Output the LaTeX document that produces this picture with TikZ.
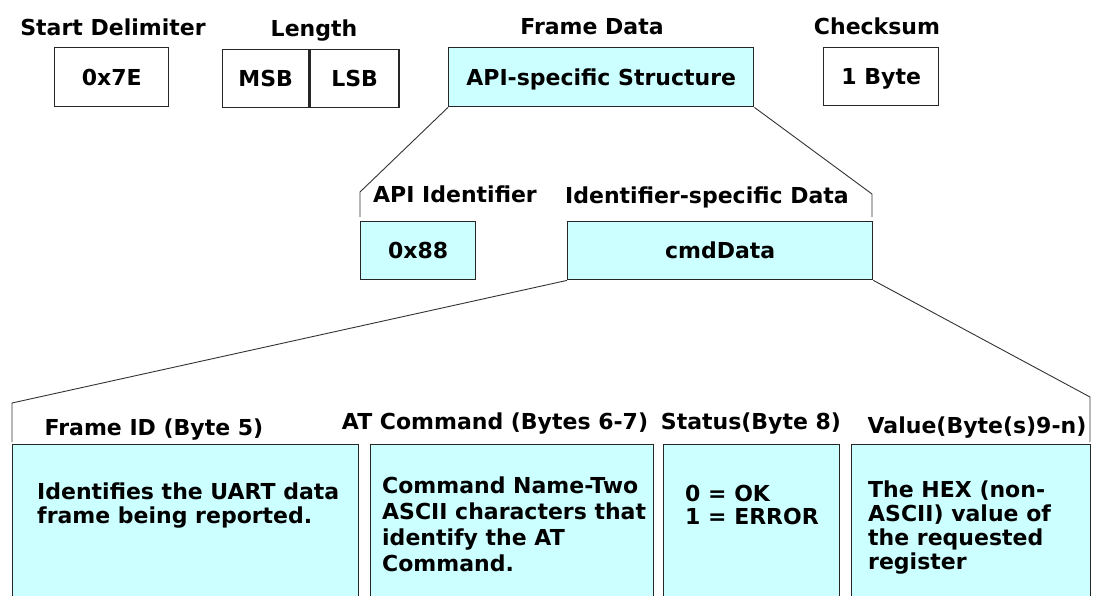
\documentclass[tikz,border=0pt]{standalone}
\usepackage{fontspec}
\setmainfont{DejaVu Sans}
\usetikzlibrary{positioning}
\definecolor{cellcyan}{RGB}{204,255,255}
\newcommand{\descfont}[1]{\fontsize{22}{#1}\selectfont\bfseries\lineskiplimit=-50pt\relax}

\begin{document}
\begin{tikzpicture}[x=1pt, y=-1pt,
                    every node/.style = {inner sep=0pt,
                    font=\fontsize{22}{24}\selectfont\bfseries},
                    wh/.style 2 args = {minimum width=#1pt, minimum height=#2pt},
                    field/.style = {draw=black!85, line width=1.4pt, anchor=north west,
                    text height=16pt, text depth=0pt},
                    plainfield/.style = {field, fill=white},
                    apifield/.style = {field, fill=cellcyan},
                    title/.style = {anchor=base},
                    desc/.style = {anchor=north west, align=left, font=\descfont{#1}},
                    fan/.style = {draw=black!80, line width=0.9pt}]
  \fill[white] (0,0) rectangle (1093,595);
  \useasboundingbox (0,0) rectangle (1093,595);
  \clip (0,0) rectangle (1093,595);

  % top row: the frame
  \node[plainfield, wh={114}{59}] (delim) at (54,47) {0x7E};
  \node[plainfield, wh={86}{58}] (msb) at (222,49) {MSB};
  \node[plainfield, wh={89}{58}] (lsb) at (msb.north east) {LSB};
  \node[apifield, wh={305}{59}] (apistruct) at (448,47) {API-specific Structure};
  \node[plainfield, wh={115}{58}] (checksum) at (823,47) {1 Byte};

  \node[title] (delimtitle) at (113,35) {Start Delimiter};
  \node[title] (lentitle) at (314,36) {Length};
  \node[title] (datatitle) at (592,34) {Frame Data};
  \node[title] (sumtitle) at (877,34) {Checksum};

  % middle row: inside the frame data
  \node[apifield, wh={115}{58}] (apiid) at (360,221) {0x88};
  \node[apifield, wh={305}{58}] (cmddata) at (567,221) {cmdData};
  \node[title] (apiidtitle) at (455,202) {API Identifier};
  \node[title] (cmdtitle) at (707,203) {Identifier-specific Data};

  \coordinate (apiL) at (360,192);
  \coordinate (apiLend) at (360,217);
  \coordinate (apiR) at (872,194);
  \coordinate (apiRend) at (872,217);
  \draw[fan] (apistruct.south west) -- (apiL) -- (apiLend);
  \draw[fan] (apistruct.south east) -- (apiR) -- (apiRend);

  % bottom row: inside cmdData
  \node[apifield, wh={346}{200}] (frameid) at (12,444) {};
  \node[apifield, wh={283}{200}] (atcmd) at (370,444) {};
  \node[apifield, wh={176}{200}] (status) at (663,444) {};
  \node[apifield, wh={239}{200}] (value) at (851,444) {};

  \node[title] (frameidtitle) at (154,435) {Frame ID (Byte 5)};
  \node[title] (atcmdtitle) at (495,429) {AT Command (Bytes 6-7)};
  \node[title] (statustitle) at (751,429) {Status(Byte 8)};
  \node[title] (valuetitle) at (977,433) {Value(Byte(s)9-n)};

  \node[desc=24] (frameidtext) at (37,483) {Identifies the UART data\\frame being reported.};
  \node[desc=26] (atcmdtext) at (382,477) {Command Name-Two\\ASCII characters that\\identify the AT\\Command.};
  \node[desc=23] (statustext) at (685,485) {0 = OK\\1 = ERROR};
  \node[desc=24] (valuetext) at (868,481) {The HEX (non-\\ASCII) value of\\the requested\\register};

  \coordinate (cmdL) at (12,403);
  \coordinate (cmdLend) at (12,442);
  \coordinate (cmdR) at (1090,397);
  \coordinate (cmdRend) at (1090,442);
  \draw[fan] (cmddata.south west) -- (cmdL) -- (cmdLend);
  \draw[fan] (cmddata.south east) -- (cmdR) -- (cmdRend);
\end{tikzpicture}
\end{document}
